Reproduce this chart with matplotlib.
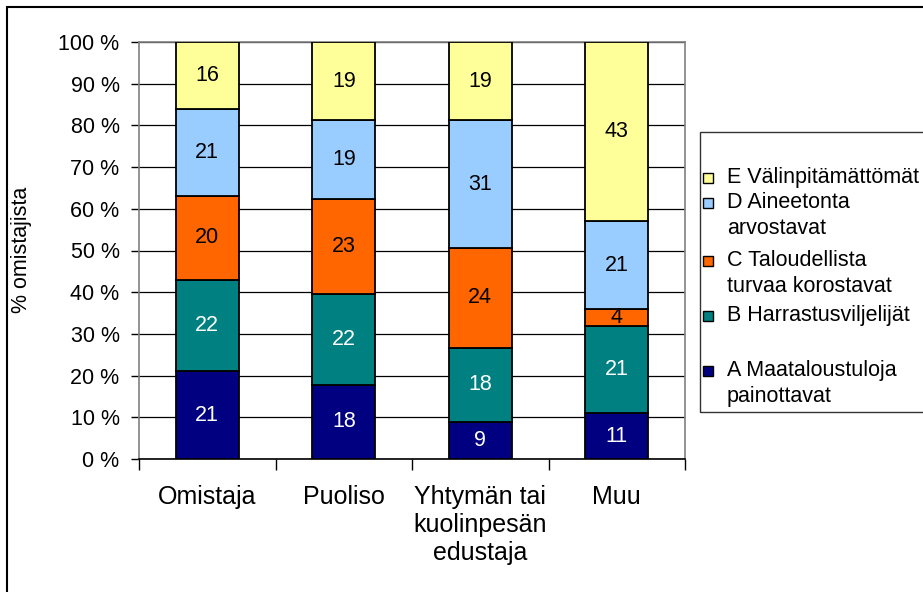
import numpy as np
import matplotlib
matplotlib.use("Agg")
from matplotlib import pyplot as plt
from matplotlib.patches import Rectangle

plt.rcParams['font.family'] = ['Liberation Sans', 'DejaVu Sans']

categories = ["Omistaja", "Puoliso", "Yhtymän tai\nkuolinpesän\nedustaja", "Muu"]
series_names = ["A Maataloustuloja\npainottavat", "B Harrastusviljelijät",
                "C Taloudellista\nturvaa korostavat", "D Aineetonta\narvostavat",
                "E Välinpitämättömät"]
A = [21, 18, 9, 11]
B = [22, 22, 18, 21]
C = [20, 23, 24, 4]
D = [21, 19, 31, 21]
E = [16, 19, 19, 43]
colors = ["#000080", "#008080", "#FF6600", "#99CCFF", "#FFFF99"]
text_colors = ["white", "white", "black", "black", "black"]

values = np.array([A, B, C, D, E], dtype=float)
pct = values / values.sum(axis=0) * 100

fig = plt.figure(figsize=(9.23, 5.92), dpi=100)
ax = fig.add_axes([139/923, 1 - 459/592, (685-139)/923, (459-42)/592])

x = np.arange(len(categories))
bottom = np.zeros(len(categories))
for i in range(len(values)):
    ax.bar(x, pct[i], 0.46, bottom=bottom, color=colors[i],
           edgecolor="black", linewidth=1.3, zorder=3)
    for j in range(len(categories)):
        ax.text(x[j], bottom[j] + pct[i][j]/2, "%d" % values[i][j],
                ha="center", va="center", fontsize=15.5, color=text_colors[i], zorder=4)
    bottom += pct[i]

ax.set_xlim(-0.5, 3.5)
ax.set_ylim(0, 100)
ax.set_yticks(np.arange(0, 101, 10))
ax.set_yticklabels(["%d %%" % v for v in range(0, 101, 10)], fontsize=15.5)
ax.yaxis.grid(True, color="black", linewidth=0.9, zorder=0)
ax.set_axisbelow(True)
ax.tick_params(axis="y", length=6, width=1, pad=8)

# category labels between ticks
ax.set_xticks([-0.5, 0.5, 1.5, 2.5, 3.5])
ax.set_xticklabels([])
ax.tick_params(axis="x", length=8, width=1, direction="out")
ax.set_xticks(x, minor=True)
ax.set_xticklabels(categories, minor=True, fontsize=18, linespacing=1.2)
ax.tick_params(axis="x", which="minor", length=0, pad=19)

for s in ["top", "right", "left"]:
    ax.spines[s].set_color("#808080")
    ax.spines[s].set_linewidth(1.2)
ax.spines["bottom"].set_color("black")
ax.spines["bottom"].set_linewidth(1.2)

fig.text(22/923, 1 - 250/592, "% omistajista", rotation=90,
         ha="center", va="center", fontsize=15.5)

# outer chart border
fig.patches.append(Rectangle((7/923, -0.1), 1.2, 1 - 7/592 + 0.1,
                             transform=fig.transFigure, fill=False,
                             edgecolor="black", linewidth=1.5))

# legend box (drawn like the original, cut at the right edge)
fig.patches.append(Rectangle((700/923, 1 - 412/592), 0.4, (412-132)/592,
                             transform=fig.transFigure, fill=False,
                             edgecolor="#333333", linewidth=1.0))
legend_y = [371, 316, 261, 203, 178]
for i in range(len(series_names)):
    yy = 1 - legend_y[i]/592
    fig.patches.append(Rectangle((703/923, yy - 5/592), 10/923, 10/592,
                                 transform=fig.transFigure,
                                 facecolor=colors[i], edgecolor="black", linewidth=1))
    fig.text(727/923, yy + 11/592, series_names[i], ha="left", va="top",
             fontsize=15.5, linespacing=1.3)

fig.savefig("out.png", dpi=100)
